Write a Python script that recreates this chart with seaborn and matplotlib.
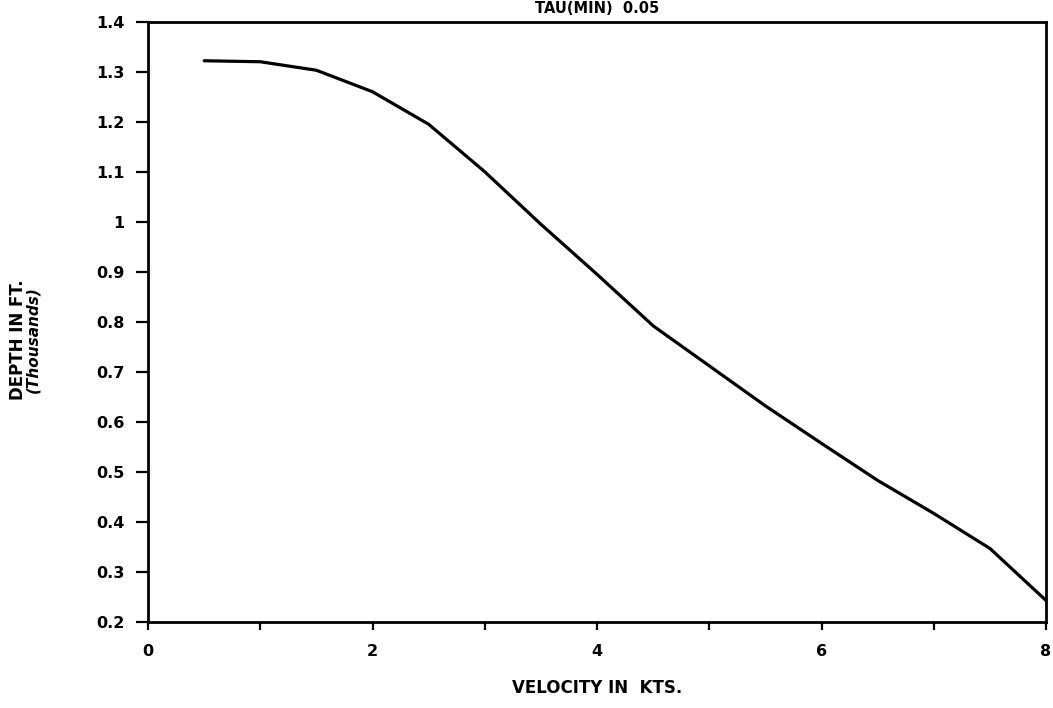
import matplotlib
matplotlib.use("Agg")
import matplotlib.pyplot as plt
import seaborn as sns
import pandas as pd

# Depth vs. velocity curve
velocity = [0.5, 1.0, 1.5, 2.0, 2.5, 3.0, 3.5, 4.0, 4.5, 5.0, 5.5, 6.0, 6.5, 7.0, 7.5, 8.0]
depth = [1.322, 1.320, 1.303, 1.260, 1.195, 1.100, 0.995, 0.895, 0.792, 0.712,
         0.632, 0.557, 0.483, 0.417, 0.347, 0.243]

x_ticks = [0, 2, 4, 6, 8]
x_minor = [1, 3, 5, 7]
y_ticks = [0.2, 0.3, 0.4, 0.5, 0.6, 0.7, 0.8, 0.9, 1.0, 1.1, 1.2, 1.3, 1.4]
y_labels = ["0.2", "0.3", "0.4", "0.5", "0.6", "0.7", "0.8", "0.9", "1",
            "1.1", "1.2", "1.3", "1.4"]

sns.set_theme(style="white")
plt.rcParams["font.family"] = ["DejaVu Sans"]
plt.rcParams["text.color"] = "black"
plt.rcParams["xtick.color"] = "black"
plt.rcParams["ytick.color"] = "black"

df = pd.DataFrame({"velocity": velocity, "depth": depth})

fig = plt.figure(figsize=(10.53, 7.08), dpi=100)
ax = fig.add_axes([0.1406, 0.1215, 0.8528, 0.8478])

sns.lineplot(data=df, x="velocity", y="depth", ax=ax, color="black", lw=2.3)

ax.set_xlim(0, 8)
ax.set_ylim(0.2, 1.4)
ax.set_xticks(x_ticks)
ax.set_xticks(x_minor, minor=True)
ax.set_xticklabels([str(t) for t in x_ticks], fontsize=11.5, fontweight="bold",
                   color="black")
ax.set_yticks(y_ticks)
ax.set_yticklabels(y_labels, fontsize=11.5, fontweight="bold", color="black")

ax.tick_params(axis="y", which="major", direction="out", length=9, width=1.6,
               color="black", pad=8, left=True)
ax.tick_params(axis="x", which="both", direction="out", length=6, width=1.6,
               color="black", pad=10, bottom=True)

for s in ax.spines.values():
    s.set_visible(True)
    s.set_color("black")
    s.set_linewidth(2.0)

ax.set_xlabel("")
ax.set_ylabel("")

fig.text(0.567, 1 - 688 / 708, "VELOCITY IN  KTS.", ha="center", va="center",
         fontsize=12, fontweight="bold", color="black")
fig.text(18 / 1053, 1 - 340 / 708, "DEPTH IN FT.", ha="center", va="center",
         rotation=90, fontsize=12, fontweight="bold", color="black")
fig.text(33 / 1053, 1 - 340 / 708, "(Thousands)", ha="center", va="center",
         rotation=90, fontsize=11, fontstyle="italic", fontweight="bold",
         color="black")
fig.text(0.567, 1 - 13 / 708, "TAU(MIN)  0.05", ha="center", va="baseline",
         fontsize=10.5, fontweight="bold", color="black")

fig.savefig("out.png", dpi=100)
